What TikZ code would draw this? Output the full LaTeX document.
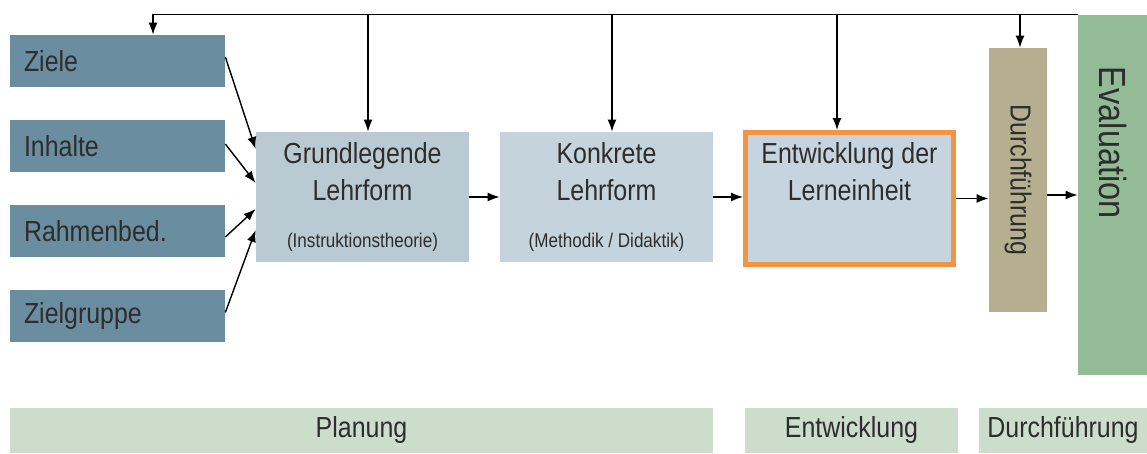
\documentclass[tikz,border=0pt]{standalone}
\usepackage{fontspec}
\setmainfont[FakeStretch=0.86]{Liberation Sans}
\usetikzlibrary{arrows.meta,shadows}
\definecolor{zielblau}{RGB}{106,141,159}
\definecolor{grundblau}{RGB}{185,202,211}
\definecolor{konkretblau}{RGB}{196,211,220}
\definecolor{entwblau}{RGB}{197,212,222}
\definecolor{rahmenorange}{RGB}{242,148,64}
\definecolor{durchbraun}{RGB}{181,174,143}
\definecolor{evalgruen}{RGB}{146,187,150}
\definecolor{phasegruen}{RGB}{204,221,203}
\definecolor{schrift}{RGB}{45,45,45}
\newcommand{\gross}{\fontsize{16.5}{21}\selectfont}
\newcommand{\klein}{\fontsize{11.3}{13.5}\selectfont}
\tikzset{
	zielbox/.style={fill=zielblau, text width=3.74cm, align=left,
		inner xsep=0.28cm, minimum height=1.04cm, font=\gross},
	lehrbox/.style={minimum width=4.26cm, minimum height=2.6cm,
		align=center, font=\gross},
	phase/.style={fill=phasegruen, minimum height=0.9cm, font=\gross},
	pfeil/.style={-{Latex[length=2.4mm,width=1.8mm]}, line width=0.8pt},
}

\begin{document}
\begin{tikzpicture}[text=schrift]
	\useasboundingbox (0,0) rectangle (22.94,9.06);
	% linke Spalte
	\node [zielbox] (ziele) at (2.35,7.84) {Ziele};
	\node [zielbox] (inhalte) at (2.35,6.14) {Inhalte};
	\node [zielbox] (rahmen) at (2.35,4.44) {Rahmenbed.};
	\node [zielbox] (zielgruppe) at (2.35,2.74) {Zielgruppe};
	% Lehrformen
	\node [lehrbox, fill=grundblau] (grund) at (7.25,5.12)
		{Grundlegende\\Lehrform\\[6pt]{\klein (Instruktionstheorie)}};
	\node [lehrbox, fill=konkretblau] (konkret) at (12.13,5.12)
		{Konkrete\\Lehrform\\[6pt]{\klein (Methodik / Didaktik)}};
	\node [lehrbox, fill=entwblau, draw=rahmenorange, line width=2.8pt,
		minimum width=4.16cm, minimum height=2.64cm,
		drop shadow={opacity=0.3, shadow xshift=0.05cm, shadow yshift=-0.06cm}]
		(entw) at (16.99,5.09)
		{Entwicklung der\\Lerneinheit\\[6pt]{\klein\strut}};
	\node [fill=durchbraun, minimum width=1.16cm, minimum height=5.28cm,
		inner sep=0pt, font=\gross] (durch) at (20.36,5.46)
		{\rotatebox{-90}{Durchführung}};
	\node [fill=evalgruen, minimum width=1.38cm, minimum height=7.2cm,
		inner sep=0pt, font=\fontsize{21.5}{25}\selectfont] (eval) at (22.25,5.16)
		{\rotatebox{-90}{\makebox[5.12cm][l]{Evaluation}}};
	% Phasen
	\node [phase, minimum width=14.06cm] (planung) at (7.23,0.45) {Planung};
	\node [phase, minimum width=4.26cm] (entwicklung) at (17.03,0.45) {Entwicklung};
	\node [phase, minimum width=3.36cm] (durchfuehrung) at (21.26,0.45) {Durchführung};
	% Pfeile
	\foreach \quelle/\a/\b in {ziele/0.08/0.96, inhalte/0.04/0.28,
		rahmen/-0.12/-0.24, zielgruppe/0.07/-0.66}
		\draw [pfeil] ([yshift=\a cm]\quelle.east) -- ([yshift=\b cm]grund.west);
	\draw [pfeil] (grund.east) -- (konkret.west);
	\draw [pfeil] (konkret.east) -- (konkret.east -| entw.west);
	\draw [pfeil] (entw.east) -- (entw.east -| durch.west);
	\draw [pfeil] (durch.east |- eval.west) -- (eval.west);
	% Rueckfuehrung
	\draw [pfeil] (eval.north west) -| ([xshift=0.71cm]ziele.north);
	\foreach \x/\ziel in {7.36/grund, 12.24/konkret, 16.74/entw, 20.40/durch} {
		\coordinate (o-\ziel) at (\x,8.76);
		\draw [pfeil] (o-\ziel) -- (o-\ziel |- \ziel.north);
	}
\end{tikzpicture}
\end{document}
